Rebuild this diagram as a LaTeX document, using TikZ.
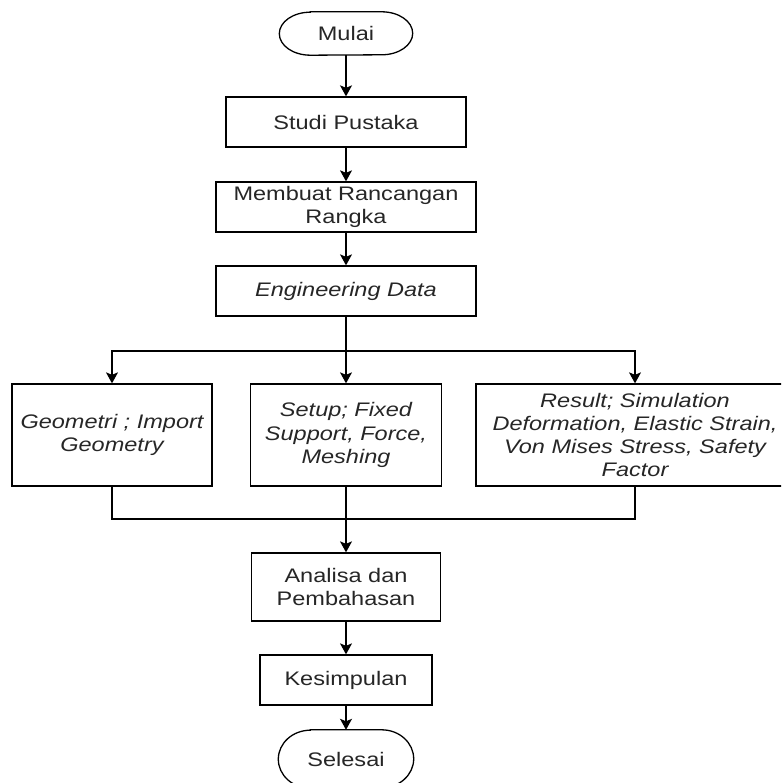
\documentclass[tikz,border=0pt]{standalone}
\usepackage{fontspec}
\setmainfont{Liberation Sans}[FakeStretch=1.2]
\usetikzlibrary{arrows.meta}
\begin{document}
\begin{tikzpicture}[x=1pt,y=1pt,
  txt/.style={font=\fontsize{19.6}{23.3}\selectfont, text=black!85, align=center, inner sep=0pt},
  itxt/.style={txt, font=\fontsize{19.6}{23.3}\selectfont\itshape},
  box/.style={draw=black, line width=1.3pt},
  line/.style={draw=black, line width=1.3pt},
  arr/.style={line, -{Stealth[length=11pt,width=12pt,inset=2.5pt]}}]
\useasboundingbox (0,0) rectangle (781,-783);
\clip (0,0) rectangle (781,-783);

% nodes
\node[txt, minimum width=133pt, minimum height=43pt] (mulai) at (346,-33.5) {Mulai};
\node[txt, box, minimum width=240pt, minimum height=50pt] (studi) at (346,-122) {Studi Pustaka};
\node[txt, box, minimum width=260pt, minimum height=50pt] (rancang) at (346,-207) {Membuat Rancangan\\Rangka};
\node[itxt, box, minimum width=260pt, minimum height=50pt] (eng) at (346,-291) {Engineering Data};
\node[itxt, box, minimum width=200pt, minimum height=102pt] (geo) at (112,-435) {Geometri ; Import\\Geometry};
\node[itxt, box, minimum width=191pt, minimum height=102pt] (setup) at (346,-435) {Setup; Fixed\\Support, Force,\\Meshing};
\node[itxt, box, minimum width=318pt, minimum height=102pt] (result) at (635,-435) {Result; Simulation\\Deformation, Elastic Strain,\\Von Mises Stress, Safety\\Factor};
\node[txt, box, minimum width=189pt, minimum height=68pt] (analisa) at (346,-587) {Analisa dan\\Pembahasan};
\node[txt, box, minimum width=172pt, minimum height=50pt] (kesimpulan) at (346,-680) {Kesimpulan};
\node[txt, minimum width=135pt, minimum height=58pt] (selesai) at (346,-759) {Selesai};

% terminator outlines
\draw[line] ([xshift=31pt]mulai.north west) -- ([xshift=-31pt]mulai.north east)
  arc[start angle=90,end angle=-90,x radius=31pt,y radius=21.5pt]
  -- ([xshift=31pt]mulai.south west)
  arc[start angle=270,end angle=90,x radius=31pt,y radius=21.5pt] -- cycle;
\draw[line] ([xshift=32pt]selesai.north west) -- ([xshift=-32pt]selesai.north east)
  arc[start angle=90,end angle=-90,x radius=32pt,y radius=29pt]
  -- ([xshift=32pt]selesai.south west)
  arc[start angle=270,end angle=90,x radius=32pt,y radius=29pt] -- cycle;

% junctions
\coordinate (j) at (346,-351);
\coordinate (k) at (346,-519);

% connectors
\draw[arr] (mulai) -- (studi);
\draw[arr] (studi) -- (rancang);
\draw[arr] (rancang) -- (eng);
\draw[line] (eng) -- (j);
\draw[arr] (j) -| (geo);
\draw[arr] (j) -- (setup);
\draw[arr] (j) -| (result);
\draw[line] (geo) |- (k);
\draw[line] (result) |- (k);
\draw[arr] (setup) -- (analisa);
\draw[arr] (analisa) -- (kesimpulan);
\draw[arr] (kesimpulan) -- (selesai);
\end{tikzpicture}
\end{document}
